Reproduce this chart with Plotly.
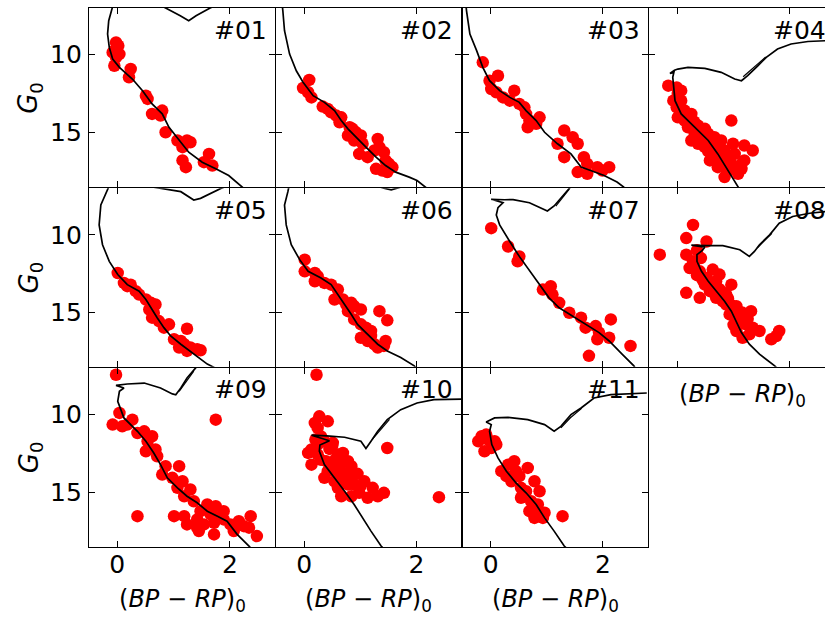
import plotly.graph_objects as go

# ---------------- data (colour index (BP-RP)_0, magnitude G_0) ----------------
panel_labels = ["#01", "#02", "#03", "#04", "#05", "#06", "#07", "#08", "#09", "#10", "#11"]

p01_x = [-0.02, 0.02, -0.05, 0.04, -0.08, -0.02, -0.05, 0.24, 0.21, 0.51, 0.54, 0.62, 0.80, 0.77, 0.86, 1.07, 1.16, 1.24, 1.30, 1.16, 1.22, 1.63, 1.54, 1.69]
p01_y = [9.21, 9.42, 9.74, 9.96, 9.85, 10.17, 10.71, 10.92, 11.45, 12.63, 12.84, 13.80, 13.59, 13.91, 14.98, 15.51, 15.94, 15.51, 15.62, 16.79, 17.22, 16.37, 16.90, 17.12]
iso01_x = [2.35, 2.22, 1.98, 1.75, 1.51, 1.27, 1.10, 0.92, 0.80, 0.62, 0.45, 0.27, 0.04, -0.08, -0.14, -0.17, -0.15, -0.11, -0.05, 0.60, 0.95, 1.12, 1.27, 1.40, 1.65, 1.95]
iso01_y = [18.9, 18.5, 17.76, 17.33, 16.90, 16.26, 15.51, 14.66, 13.80, 13.16, 12.31, 11.56, 10.81, 10.28, 9.53, 8.67, 7.82, 7.30, 6.50, 6.50, 7.15, 7.50, 7.82, 7.50, 7.00, 6.50]

p02_x = [0.09, -0.02, 0.07, 0.13, 0.33, 0.42, 0.48, 0.57, 0.66, 0.63, 0.81, 0.86, 0.78, 0.92, 1.01, 0.89, 1.04, 1.31, 1.34, 1.25, 1.42, 0.98, 1.13, 1.45, 1.51, 1.28, 1.39, 1.57, 1.48]
p02_y = [11.62, 12.14, 12.41, 12.74, 13.33, 13.48, 13.70, 13.91, 14.02, 14.34, 14.66, 14.76, 15.19, 14.98, 15.19, 15.51, 15.72, 15.41, 15.94, 16.15, 16.26, 16.37, 16.58, 16.79, 17.01, 17.33, 17.44, 17.22, 17.54]
iso02_x = [2.30, 2.16, 2.01, 1.87, 1.63, 1.45, 1.28, 1.10, 0.95, 0.78, 0.66, 0.54, 0.36, 0.16, -0.02, -0.14, -0.26, -0.35, -0.38, -0.40]
iso02_y = [18.9, 18.5, 18.08, 17.86, 17.54, 17.12, 16.58, 15.94, 15.41, 14.76, 14.23, 13.59, 13.06, 12.63, 11.77, 11.03, 9.96, 8.46, 7.18, 6.5]

p03_x = [-0.14, 0.13, -0.02, 0.01, 0.10, 0.22, 0.42, 0.34, 0.51, 0.60, 0.63, 0.69, 0.66, 0.81, 0.87, 1.31, 1.46, 1.55, 1.19, 1.31, 1.66, 1.72, 1.90, 2.11, 1.55, 1.72, 1.99]
p03_y = [10.49, 11.35, 11.67, 12.20, 12.41, 12.74, 12.31, 12.95, 13.16, 13.38, 13.80, 14.23, 14.66, 14.44, 14.02, 14.87, 15.30, 15.72, 15.72, 16.58, 16.58, 17.01, 17.22, 17.22, 17.54, 17.65, 17.44]
iso03_x = [2.45, 2.37, 2.25, 2.02, 1.78, 1.61, 1.43, 1.19, 0.96, 0.81, 0.63, 0.51, 0.34, 0.16, -0.02, -0.14, -0.25, -0.37, -0.43, -0.45]
iso03_y = [18.9, 18.5, 18.18, 17.76, 17.44, 17.22, 16.37, 15.72, 14.98, 14.23, 13.59, 13.06, 12.74, 12.31, 11.67, 10.81, 9.74, 8.67, 7.18, 6.5]

p04_x = [-0.16, -0.01, 0.01, 0.07, -0.01, 0.13, 0.25, 0.01, 0.13, 0.19, 0.37, 0.49, 0.31, 0.43, 0.55, 0.61, 0.66, 0.78, 0.37, 0.49, 0.61, 0.72, 0.84, 0.96, 0.99, 1.19, 1.34, 0.66, 0.78, 0.90, 1.02, 1.14, 0.72, 0.90, 1.08, 0.96, 1.19, 0.84, 1.14, 0.07, -0.07, 0.25, 0.58, 0.05, 0.20, 0.30, 0.45, 0.60, 0.70, 0.85, 0.95, 0.40, 0.55]
p04_y = [11.99, 12.10, 12.52, 12.95, 13.38, 13.59, 13.80, 14.02, 14.23, 14.66, 14.55, 14.76, 15.08, 15.30, 15.08, 15.51, 15.30, 15.51, 15.72, 15.94, 16.15, 15.94, 16.15, 14.23, 15.72, 15.83, 16.15, 16.58, 16.79, 16.58, 16.37, 17.01, 17.22, 17.44, 17.65, 17.01, 16.79, 17.86, 17.33, 12.31, 12.95, 15.51, 16.79, 13.00, 14.00, 14.30, 14.90, 15.70, 16.30, 16.80, 17.20, 15.50, 16.20]
iso04_x = [1.15, 1.08, 0.90, 0.72, 0.55, 0.40, 0.25, 0.07, -0.04, -0.07, -0.08, -0.06, -0.13, -0.05, 0.01, 0.19, 0.49, 0.78, 1.02, 1.14, 1.25, 1.43, 1.58, 1.78, 2.02, 2.32, 2.65]
iso04_y = [18.9, 18.5, 17.44, 16.37, 15.51, 14.98, 14.44, 13.80, 12.95, 12.10, 11.45, 11.13, 11.20, 11.00, 10.92, 10.81, 10.88, 11.13, 11.56, 11.67, 11.35, 10.71, 10.17, 9.63, 9.31, 9.15, 9.10]
clump04_x = [1.17, 1.30, 1.45, 1.57]
clump04_y = [11.42, 11.00, 10.50, 10.15]

p05_x = [0.01, 0.12, 0.24, 0.18, 0.33, 0.39, 0.51, 0.60, 0.68, 0.57, 0.65, 0.62, 0.74, 0.92, 0.83, 1.24, 1.01, 1.13, 1.19, 1.10, 1.30, 1.42, 1.48, 1.24]
p05_y = [12.46, 13.10, 13.21, 13.31, 13.63, 13.85, 14.17, 14.38, 14.49, 14.81, 15.02, 15.34, 15.56, 15.77, 15.98, 16.05, 16.73, 16.84, 17.05, 17.26, 17.26, 17.37, 17.44, 17.48]
iso05_x = [1.85, 1.72, 1.60, 1.36, 1.13, 0.95, 0.83, 0.71, 0.60, 0.51, 0.39, 0.18, 0.01, -0.14, -0.26, -0.32, -0.29, -0.17, -0.10, 0.30, 0.60, 1.13, 1.36, 1.48, 1.84, 2.20]
iso05_y = [18.9, 18.54, 18.33, 17.69, 17.05, 16.52, 15.98, 15.34, 14.70, 14.17, 13.63, 13.21, 12.56, 11.71, 10.64, 9.36, 8.08, 7.12, 6.50, 6.30, 6.90, 7.22, 7.76, 7.65, 7.01, 6.50]

p06_x = [0.01, 0.01, 0.19, 0.24, 0.19, 0.36, 0.48, 0.60, 0.54, 0.69, 0.75, 0.84, 0.89, 0.78, 1.01, 1.34, 0.89, 1.01, 1.10, 1.19, 1.48, 1.01, 1.13, 1.25, 1.31, 1.42, 1.45, 1.19]
p06_y = [11.60, 12.35, 12.46, 12.67, 12.99, 13.10, 13.21, 13.53, 14.17, 14.17, 14.49, 14.38, 14.60, 14.92, 14.81, 14.92, 15.45, 15.77, 15.98, 16.20, 15.51, 16.63, 16.84, 17.05, 17.26, 17.16, 16.84, 16.52]
iso06_x = [2.05, 1.96, 1.72, 1.48, 1.31, 1.13, 0.95, 0.84, 0.72, 0.60, 0.48, 0.30, 0.07, -0.08, -0.23, -0.32, -0.35, -0.29, -0.25, 0.50, 1.00, 1.42, 1.55, 1.70, 2.00]
iso06_y = [18.9, 18.44, 17.90, 17.48, 17.05, 16.41, 15.77, 15.13, 14.49, 13.85, 13.21, 12.78, 12.35, 11.60, 10.64, 9.36, 8.08, 7.22, 6.50, 6.00, 6.50, 7.00, 7.10, 6.95, 6.50]

p07_x = [0.01, 0.31, 0.51, 0.48, 0.93, 1.07, 1.10, 1.22, 1.40, 1.61, 1.69, 1.87, 1.93, 2.14, 2.11, 1.90, 2.49, 1.75]
p07_y = [9.57, 10.75, 11.39, 11.71, 13.53, 13.31, 13.85, 14.38, 15.02, 15.34, 15.98, 15.88, 16.30, 15.45, 16.63, 16.73, 17.16, 17.80]
iso07_x = [2.62, 2.55, 2.34, 2.11, 1.93, 1.69, 1.46, 1.22, 1.04, 0.87, 0.69, 0.51, 0.34, 0.16, 0.10, 0.13, 0.22, 0.01, 0.25, 0.40, 0.69, 0.93, 1.01, 1.13, 1.25, 1.37, 1.45]
iso07_y = [18.9, 18.44, 17.69, 16.84, 16.30, 15.77, 15.24, 14.70, 14.06, 13.21, 12.35, 11.39, 10.43, 9.36, 8.72, 8.25, 7.93, 7.71, 7.74, 7.73, 7.93, 8.35, 8.46, 8.14, 7.61, 7.07, 6.80]
clump07_x = [1.16, 1.27, 1.40]
clump07_y = [8.15, 7.62, 7.05]

p08_x = [0.28, 0.16, 0.52, -0.31, 0.16, 0.28, 0.22, 0.40, 0.63, 0.52, 0.69, 0.75, 0.96, 0.16, 0.40, 0.58, 0.69, 0.81, 0.87, 0.99, 1.05, 1.16, 1.31, 0.93, 1.11, 1.22, 1.34, 1.46, 1.05, 1.16, 1.28, 1.67, 1.81, 1.76, 0.49, 0.63, 0.87, 0.30, 0.35, 0.45, 0.55, 0.75, 0.80, 0.90, 0.95, 1.05, 1.15, 1.25, 1.00, 0.35, 0.42]
p08_y = [9.36, 10.21, 10.43, 11.28, 11.28, 11.71, 12.14, 12.35, 12.24, 12.78, 12.99, 12.56, 13.21, 13.74, 14.06, 13.63, 14.06, 14.28, 14.49, 14.70, 14.92, 15.24, 14.92, 15.13, 15.56, 15.77, 15.98, 16.20, 16.20, 16.63, 16.41, 16.73, 16.20, 16.52, 13.21, 13.42, 13.85, 11.80, 12.60, 12.90, 13.00, 13.50, 13.70, 14.10, 14.50, 14.60, 15.00, 15.40, 15.80, 11.00, 11.50]
iso08_x = [1.85, 1.73, 1.46, 1.28, 1.14, 1.05, 0.96, 0.84, 0.69, 0.55, 0.43, 0.35, 0.35, 0.44, 0.49, 0.25, 0.52, 0.81, 1.11, 1.28, 1.37, 1.46, 1.64, 1.81, 2.05, 2.35, 2.65]
iso08_y = [18.9, 18.44, 17.69, 17.05, 16.30, 15.56, 14.92, 14.28, 13.63, 12.99, 12.35, 11.71, 11.28, 11.02, 10.80, 10.67, 10.70, 10.70, 10.96, 11.39, 11.07, 10.64, 10.00, 9.25, 8.82, 8.61, 8.50]
clump08_x = [1.42, 1.55, 1.68]
clump08_y = [10.85, 10.35, 9.90]

p09_x = [-0.02, 0.04, -0.08, 0.09, 0.27, 0.18, 0.36, 0.48, 0.62, 0.54, 0.51, 0.68, 0.71, 0.86, 0.80, 1.10, 0.98, 1.16, 1.07, 1.30, 1.19, 1.36, 1.60, 1.75, 1.48, 1.66, 1.78, 1.89, 1.01, 1.19, 1.42, 1.24, 1.42, 1.54, 1.72, 2.01, 2.16, 2.37, 2.34, 2.48, 1.72, 1.45, 0.36, 1.75, 1.89, 2.07, 2.25]
p09_y = [7.44, 9.89, 10.64, 10.75, 10.32, 10.64, 11.18, 11.07, 11.39, 11.71, 12.35, 12.24, 12.67, 13.31, 13.85, 13.31, 14.06, 14.28, 14.70, 14.81, 15.24, 15.56, 15.77, 15.88, 16.20, 16.41, 16.63, 16.73, 16.52, 16.52, 16.73, 17.05, 17.26, 17.05, 16.94, 17.05, 16.84, 16.52, 17.26, 17.80, 17.69, 17.48, 16.52, 10.32, 16.20, 17.48, 17.16]
iso09_x = [2.45, 2.34, 2.13, 1.95, 1.78, 1.60, 1.42, 1.24, 1.07, 0.89, 0.77, 0.65, 0.51, 0.36, 0.12, 0.01, 0.04, 0.12, -0.02, 0.18, 0.48, 0.77, 0.98, 1.04, 1.13, 1.24, 1.39, 1.47]
iso09_y = [18.9, 18.44, 17.69, 16.84, 16.52, 16.20, 15.66, 15.24, 14.70, 14.06, 13.21, 12.46, 11.71, 11.07, 10.21, 9.15, 8.50, 8.29, 8.12, 8.03, 7.97, 8.29, 8.67, 8.72, 8.29, 7.65, 7.01, 6.70]
clump09_x = [1.10, 1.22, 1.36]
clump09_y = [8.50, 7.90, 7.20]

p10_x = [0.22, 0.27, 0.19, 0.42, 0.24, 0.36, 0.51, 0.24, 0.13, 0.07, 0.24, 0.13, 0.39, 0.60, 0.69, 0.78, 0.84, 0.42, 0.60, 0.78, 0.36, 0.54, 0.72, 0.84, 0.60, 0.78, 0.89, 1.07, 1.22, 1.42, 1.31, 1.13, 0.98, 0.84, 0.66, 1.48, 2.40, 0.48, 0.30, 0.45, 0.55, 0.65, 0.70, 0.95, 1.00, 0.50, 0.30, 0.20]
p10_y = [7.44, 10.11, 10.53, 10.43, 10.85, 11.71, 11.81, 11.92, 12.24, 12.46, 12.56, 13.21, 12.99, 12.56, 12.46, 12.99, 13.31, 13.63, 13.63, 13.74, 14.06, 14.28, 14.17, 14.06, 14.70, 14.49, 14.49, 14.28, 14.70, 15.02, 15.24, 15.34, 15.02, 15.24, 15.24, 12.14, 15.30, 13.21, 11.40, 12.20, 12.90, 13.20, 13.90, 13.80, 14.60, 12.00, 12.90, 11.60]
iso10_x = [1.50, 1.37, 1.19, 1.04, 0.89, 0.72, 0.54, 0.36, 0.27, 0.28, 0.45, 0.13, 0.40, 0.72, 1.01, 1.10, 1.19, 1.31, 1.48, 1.72, 2.01, 2.31, 2.84]
iso10_y = [18.9, 18.44, 17.48, 16.63, 15.77, 14.92, 14.06, 13.21, 12.35, 11.95, 11.68, 11.32, 11.36, 11.45, 11.71, 12.18, 11.71, 11.07, 10.32, 9.68, 9.25, 9.04, 9.00]
clump10_x = [1.22, 1.36, 1.52]
clump10_y = [11.55, 10.95, 10.30]

p11_x = [-0.16, -0.08, 0.07, 0.10, -0.11, -0.22, 0.01, 0.19, 0.31, 0.42, 0.28, 0.37, 0.51, 0.66, 0.78, 0.54, 0.63, 0.87, 0.54, 0.72, 0.84, 0.69, 0.81, 0.96, 0.93, 0.78, 1.28, 0.45, -0.05]
p11_y = [11.39, 11.28, 11.71, 11.92, 12.35, 11.71, 12.14, 13.63, 13.21, 12.99, 13.95, 14.28, 13.95, 13.42, 14.28, 14.70, 14.92, 14.92, 15.34, 15.56, 15.77, 16.20, 16.41, 16.30, 16.63, 16.63, 16.52, 13.63, 11.60]
iso11_x = [1.45, 1.31, 1.13, 0.96, 0.81, 0.63, 0.45, 0.28, 0.13, 0.02, -0.02, 0.01, -0.08, 0.07, 0.31, 0.66, 0.96, 1.13, 1.25, 1.43, 1.61, 1.84, 2.14, 2.43, 2.78]
iso11_y = [18.9, 18.44, 17.48, 16.63, 15.77, 15.02, 14.38, 13.63, 12.78, 11.92, 11.07, 10.64, 10.47, 10.21, 10.17, 10.32, 10.64, 11.07, 10.75, 10.00, 9.57, 8.93, 8.72, 8.67, 8.61]
clump11_x = [1.25, 1.42, 1.62]
clump11_y = [10.85, 10.20, 9.60]

x_tickvals = [0, 2]
y_tickvals = [10, 15]
x_range = [-0.5, 2.8]
y_range = [18.5, 7.0]

stars = [(p01_x, p01_y), (p02_x, p02_y), (p03_x, p03_y), (p04_x, p04_y), (p05_x, p05_y),
         (p06_x, p06_y), (p07_x, p07_y), (p08_x, p08_y), (p09_x, p09_y), (p10_x, p10_y), (p11_x, p11_y)]
isos = [(iso01_x, iso01_y), (iso02_x, iso02_y), (iso03_x, iso03_y), (iso04_x, iso04_y), (iso05_x, iso05_y),
        (iso06_x, iso06_y), (iso07_x, iso07_y), (iso08_x, iso08_y), (iso09_x, iso09_y), (iso10_x, iso10_y), (iso11_x, iso11_y)]
clumps = {3: (clump04_x, clump04_y), 6: (clump07_x, clump07_y), 7: (clump08_x, clump08_y),
          8: (clump09_x, clump09_y), 9: (clump10_x, clump10_y), 10: (clump11_x, clump11_y)}

# ---------------- layout geometry ----------------
W, H = 825, 617
ML, MR, MT, MB = 89, 0, 8, 70
PW = W - ML - MR          # 736
PH = H - MT - MB          # 539
COLW = 186.5              # pixel width of one panel
ROWH = PH / 3
PX_PER_UNIT = COLW / (x_range[1] - x_range[0])
LW = 1.2                  # frame line width
GAP = LW                  # pixel gap so neighbouring frame lines coincide

FONT = "DejaVu Sans"
FS = 25

fig = go.Figure()
layout = dict(width=W, height=H, margin=dict(l=ML, r=MR, t=MT, b=MB),
              paper_bgcolor="white", plot_bgcolor="white", showlegend=False,
              font=dict(family=FONT, size=FS, color="black"))
annotations = []

for i in range(11):
    r, c = divmod(i, 4)
    sfx = "" if i == 0 else str(i + 1)
    x0 = (c * COLW + GAP / 2) / PW if c > 0 else 0.0
    x1 = min(((c + 1) * COLW - GAP / 2) / PW, 1.0)
    if c < 3:
        xr = list(x_range)
    else:
        xr = [x_range[0], x_range[0] + (PW - 3 * COLW) / PX_PER_UNIT]
    ytop_px = r * ROWH + (GAP / 2 if r > 0 else 0)
    ybot_px = (r + 1) * ROWH - (GAP / 2 if r < 2 else 0)
    y0 = 1 - ybot_px / PH
    y1 = 1 - ytop_px / PH
    common = dict(showline=True, linecolor="black", linewidth=LW, ticks="inside", ticklen=6,
                  tickwidth=1.2, tickcolor="black", showgrid=False, zeroline=False,
                  tickfont=dict(family=FONT, size=FS, color="black"))
    layout["xaxis" + sfx] = dict(common, domain=[x0, x1], range=xr, tickvals=x_tickvals,
                                 mirror="ticks", anchor="y" + sfx,
                                 showticklabels=(r == 2), ticklabelstandoff=-5)
    layout["yaxis" + sfx] = dict(common, domain=[y0, y1], range=y_range, tickvals=y_tickvals,
                                 mirror=("ticks" if c < 3 else False), anchor="x" + sfx,
                                 showticklabels=(c == 0), ticklabelstandoff=1)

    sx, sy = stars[i]
    fig.add_trace(go.Scatter(x=sx, y=sy, mode="markers", xaxis="x" + sfx, yaxis="y" + sfx,
                             marker=dict(color="#ff0000", size=12.5, line=dict(width=0)),
                             hoverinfo="skip"))
    ix, iy = isos[i]
    fig.add_trace(go.Scatter(x=ix, y=iy, mode="lines", xaxis="x" + sfx, yaxis="y" + sfx,
                             line=dict(color="black", width=1.7), hoverinfo="skip"))
    if i in clumps:
        cx, cy = clumps[i]
        fig.add_trace(go.Scatter(x=cx, y=cy, mode="lines", xaxis="x" + sfx, yaxis="y" + sfx,
                                 line=dict(color="black", width=1.2), hoverinfo="skip"))

    # panel label (top-right inside)
    annotations.append(dict(text=panel_labels[i], xref="paper", yref="paper",
                            x=((c + 1) * COLW - 7) / PW, xanchor="right",
                            y=1 - r / 3 - 22.5 / PH, yanchor="middle",
                            showarrow=False, font=dict(family=FONT, size=FS, color="black")))

ylab = "<i>G</i><sub>0</sub>"
xlab = "(<i>BP</i> − <i>RP</i>)<sub>0</sub>"
for r in range(3):
    annotations.append(dict(text=ylab, xref="paper", yref="paper", x=(30 - ML) / PW,
                            y=1 - (r + 0.5) / 3, xanchor="center", yanchor="middle",
                            textangle=-90, showarrow=False,
                            font=dict(family=FONT, size=FS + 1, color="black")))
for c in range(3):
    annotations.append(dict(text=xlab, xref="paper", yref="paper", x=(c + 0.5) * COLW / PW,
                            y=(547 - 616.5) / PH, xanchor="center", yanchor="bottom",
                            showarrow=False, borderpad=0,
                            font=dict(family=FONT, size=FS - 1, color="black")))
annotations.append(dict(text=xlab, xref="paper", yref="paper", x=(742 - ML) / PW,
                        y=(547 - 395) / PH, xanchor="center", yanchor="middle",
                        showarrow=False, font=dict(family=FONT, size=FS - 1, color="black")))

layout["annotations"] = annotations
fig.update_layout(**layout)
fig.write_html("out.html")
